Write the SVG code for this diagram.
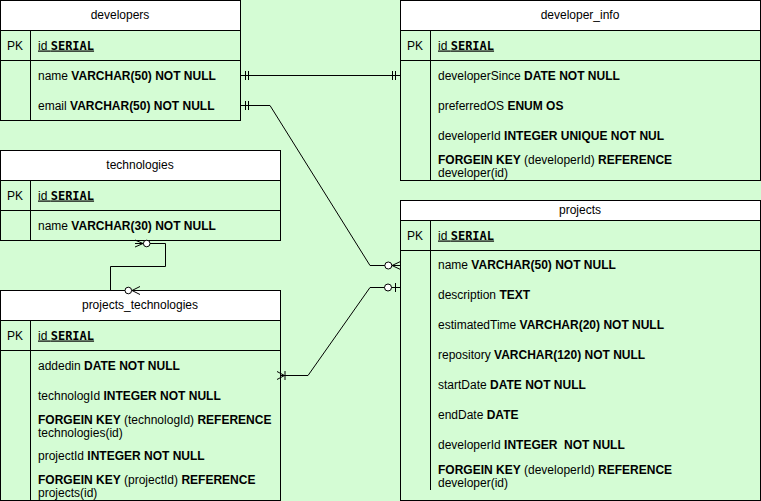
<svg xmlns="http://www.w3.org/2000/svg" width="761" height="501" viewBox="0 0 761 501">
<style>
.bg{fill:#d4fcd4}
.tbl{fill:#d4fcd4;stroke:#000;stroke-width:1}
.hdr{fill:#fff;stroke:#000;stroke-width:1}
.ln{stroke:#000;stroke-width:1;fill:none}
text{font-family:"Liberation Sans",Arial,sans-serif;font-size:12px;fill:#000;white-space:pre}
.t{text-anchor:middle}
.pk{text-anchor:middle}
.b{font-weight:bold}
.m{font-family:"DejaVu Sans Mono",monospace;font-weight:bold}
.u{text-decoration:underline}
.c{stroke:#000;stroke-width:1;fill:none}
.o{stroke:#000;stroke-width:1;fill:#fff}
</style>
<rect class="bg" x="0" y="0" width="761" height="501"/>

<g id="developers">
<rect class="tbl" x="0.5" y="0.5" width="240" height="120"/>
<rect class="hdr" x="0.5" y="0.5" width="240" height="30"/>
<path class="ln" d="M0.5,60.5H240.5M30.5,30.5V120.5"/>
<text class="t" x="120" y="19">developers</text>
<text class="pk" x="15" y="49.5">PK</text>
<text class="u" x="38" y="49.5">id <tspan class="m">SERIAL</tspan></text>
<text x="38" y="80">name <tspan class="b">VARCHAR(50) NOT NULL</tspan></text>
<text x="38" y="110">email <tspan class="b">VARCHAR(50) NOT NULL</tspan></text>
</g>

<g id="developer_info">
<rect class="tbl" x="400.5" y="0.5" width="360" height="180"/>
<rect class="hdr" x="400.5" y="0.5" width="360" height="30"/>
<path class="ln" d="M400.5,60.5H760.5M430.5,30.5V180.5"/>
<text class="t" x="580" y="19">developer_info</text>
<text class="pk" x="415" y="49.5">PK</text>
<text class="u" x="438" y="49.5">id <tspan class="m">SERIAL</tspan></text>
<text x="438" y="80">developerSince <tspan class="b">DATE NOT NULL</tspan></text>
<text x="438" y="110">preferredOS <tspan class="b">ENUM OS</tspan></text>
<text x="438" y="140">developerId <tspan class="b">INTEGER UNIQUE NOT NUL</tspan></text>
<text x="438" y="164"><tspan class="b">FORGEIN KEY</tspan> (developerId) <tspan class="b">REFERENCE</tspan></text>
<text x="438" y="177">developer(id)</text>
</g>

<g id="technologies">
<rect class="tbl" x="0.5" y="150.5" width="280" height="90"/>
<rect class="hdr" x="0.5" y="150.5" width="280" height="30"/>
<path class="ln" d="M0.5,210.5H280.5M30.5,180.5V240.5"/>
<text class="t" x="140" y="169">technologies</text>
<text class="pk" x="15" y="199.5">PK</text>
<text class="u" x="38" y="199.5">id <tspan class="m">SERIAL</tspan></text>
<text x="38" y="230">name <tspan class="b">VARCHAR(30) NOT NULL</tspan></text>
</g>

<g id="projects_technologies">
<rect class="tbl" x="0.5" y="290.5" width="280" height="210"/>
<rect class="hdr" x="0.5" y="290.5" width="280" height="30"/>
<path class="ln" d="M0.5,350.5H280.5M30.5,320.5V500.5"/>
<text class="t" x="140" y="309">projects_technologies</text>
<text class="pk" x="15" y="339.5">PK</text>
<text class="u" x="38" y="339.5">id <tspan class="m">SERIAL</tspan></text>
<text x="38" y="369.5">addedin <tspan class="b">DATE NOT NULL</tspan></text>
<text x="38" y="399.5">technologId <tspan class="b">INTEGER NOT NULL</tspan></text>
<text x="38" y="424"><tspan class="b">FORGEIN KEY</tspan> (technologId) <tspan class="b">REFERENCE</tspan></text>
<text x="38" y="437">technologies(id)</text>
<text x="38" y="459.5">projectId <tspan class="b">INTEGER NOT NULL</tspan></text>
<text x="38" y="484"><tspan class="b">FORGEIN KEY</tspan> (projectId) <tspan class="b">REFERENCE</tspan></text>
<text x="38" y="497">projects(id)</text>
</g>

<g id="projects">
<rect class="tbl" x="400.5" y="200.5" width="360" height="300"/>
<rect class="hdr" x="400.5" y="200.5" width="360" height="20"/>
<path class="ln" d="M400.5,250.5H760.5M430.5,220.5V490"/>
<text class="t" x="580" y="214">projects</text>
<text class="pk" x="415" y="239.5">PK</text>
<text class="u" x="438" y="239.5">id <tspan class="m">SERIAL</tspan></text>
<text x="438" y="269">name <tspan class="b">VARCHAR(50) NOT NULL</tspan></text>
<text x="438" y="299">description <tspan class="b">TEXT</tspan></text>
<text x="438" y="329">estimatedTime <tspan class="b">VARCHAR(20) NOT NULL</tspan></text>
<text x="438" y="359">repository <tspan class="b">VARCHAR(120) NOT NULL</tspan></text>
<text x="438" y="389">startDate <tspan class="b">DATE NOT NULL</tspan></text>
<text x="438" y="419">endDate <tspan class="b">DATE</tspan></text>
<text x="438" y="449">developerId <tspan class="b">INTEGER  NOT NULL</tspan></text>
<text x="438" y="474"><tspan class="b">FORGEIN KEY</tspan> (developerId) <tspan class="b">REFERENCE</tspan></text>
<text x="438" y="487">developer(id)</text>
</g>

<g id="connectors">
<path class="c" d="M240.5,75.5H400.5M245.5,71V80M248.5,71V80M392.5,71V80M395.5,71V80"/>
<path class="c" d="M240.5,105.5H270L370,265.5H400.5M245.5,101V110M248.5,101V110M392,265.5L400.5,261.5M392,265.5L400.5,269.5"/>
<circle class="o" cx="388.3" cy="265.5" r="3.5"/>
<path class="c" d="M280,375.5H308L370,287.5H400.5M395.5,283V292M277,371.5L284.5,375.5L277,379.5M285,371V380"/>
<circle class="o" cx="388" cy="287.5" r="3.5"/>
<path class="c" d="M135,243.5H165.5V266.5H110.5V290.5H140M135,240L143,243.5L135,247M132,290.5L140,286.5M132,290.5L140,294.5"/>
<circle class="o" cx="146.7" cy="243.5" r="3.3"/>
<circle class="o" cx="128.3" cy="290.5" r="3.3"/>
</g>
</svg>
